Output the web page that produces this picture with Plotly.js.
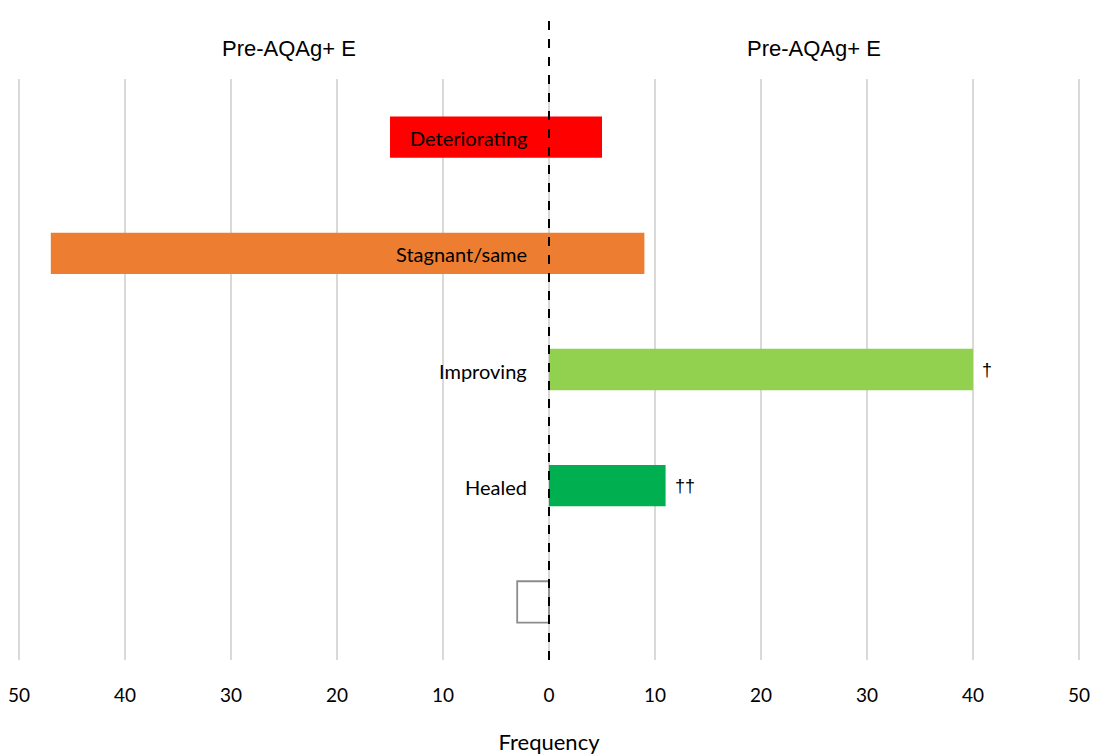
<!DOCTYPE html>
<html>
<head>
<meta charset="utf-8">
<script src="https://cdn.plot.ly/plotly-3.0.1.min.js"></script>
<style>html,body{margin:0;padding:0;background:#fff}#chart{width:1095px;height:756px}</style>
</head>
<body>
<div id="chart"></div>
<script>
// Data
const categories = ["Deteriorating", "Stagnant/same", "Improving", "Healed", "(blank)"];
const categoryLabels = ["Deteriorating", "Stagnant/same", "Improving", "Healed", ""];
const leftValues = [15, 47, 0, 0, 3];   // Pre-AQAg+ E (left side)
const rightValues = [5, 9, 40, 11, 0];  // Pre-AQAg+ E (right side)
const markers = ["", "", "\u2020", "\u2020\u2020", ""];
const barColors = ["#FF0000", "#ED7D31", "#92D050", "#00B050", "#FFFFFF"];
const tickVals = [-50, -40, -30, -20, -10, 0, 10, 20, 30, 40, 50];
const tickText = ["50", "40", "30", "20", "10", "0", "10", "20", "30", "40", "50"];
const sideTitles = ["Pre-AQAg+ E", "Pre-AQAg+ E"];
const axisTitle = "Frequency";

const lineW = categories.map((c, i) => barColors[i] === "#FFFFFF" ? 1.8 : 0);

const left = {
  type: "bar", orientation: "h",
  y: categories, x: leftValues.map(v => -v),
  marker: {color: barColors, line: {color: "#8c8c8c", width: lineW}},
  hoverinfo: "skip", showlegend: false
};
const right = {
  type: "bar", orientation: "h",
  y: categories, x: rightValues,
  marker: {color: barColors, line: {color: "#8c8c8c", width: 0}},
  hoverinfo: "skip", showlegend: false
};

const font = "Lato, 'Open Sans', sans-serif";
const annotations = [];
categories.forEach((c, i) => {
  if (categoryLabels[i]) {
    annotations.push({x: 0, y: c, xref: "x", yref: "y", text: categoryLabels[i],
      xanchor: "right", yanchor: "middle", xshift: -20, yshift: -1, showarrow: false,
      font: {family: font, size: 20, color: "#000"}});
  }
  if (markers[i]) {
    annotations.push({x: rightValues[i], y: c, xref: "x", yref: "y", text: markers[i],
      xanchor: "left", yanchor: "middle", xshift: 7, showarrow: false,
      font: {family: "'Liberation Sans', 'DejaVu Sans', sans-serif", size: 18, color: "#000"}});
  }
});
annotations.push({x: -24.5, y: 1.052, xref: "x", yref: "paper", text: sideTitles[0], showarrow: false,
  xanchor: "center", yanchor: "middle", font: {family: "'Liberation Sans', Arial, sans-serif", size: 22, color: "#000"}});
annotations.push({x: 25, y: 1.052, xref: "x", yref: "paper", text: sideTitles[1], showarrow: false,
  xanchor: "center", yanchor: "middle", font: {family: "'Liberation Sans', Arial, sans-serif", size: 22, color: "#000"}});

const layout = {
  width: 1095, height: 756,
  margin: {l: 15, r: 12, t: 79, b: 96},
  paper_bgcolor: "#fff", plot_bgcolor: "#fff",
  barmode: "relative", bargap: 0.645,
  xaxis: {
    range: [-50.38, 50.38], tickvals: tickVals, ticktext: tickText,
    showgrid: true, gridcolor: "#d9d9d9", gridwidth: 1.5, zeroline: false, showline: false,
    ticks: "outside", ticklen: 18, tickcolor: "rgba(0,0,0,0)",
    tickfont: {family: font, size: 19, color: "#000"},
    title: {text: axisTitle, font: {family: font, size: 22, color: "#000"}, standoff: 29},
    automargin: false, fixedrange: true
  },
  yaxis: {
    autorange: "reversed", showticklabels: false, showgrid: false, zeroline: false,
    showline: false, automargin: false, fixedrange: true
  },
  shapes: [{type: "line", xref: "x", yref: "paper", x0: 0, x1: 0, y0: 0, y1: 1.115,
    line: {color: "#000", width: 2, dash: "dash"}}],
  annotations: annotations
};

Plotly.newPlot("chart", [left, right], layout, {displayModeBar: false, staticPlot: true});
</script>
</body>
</html>
